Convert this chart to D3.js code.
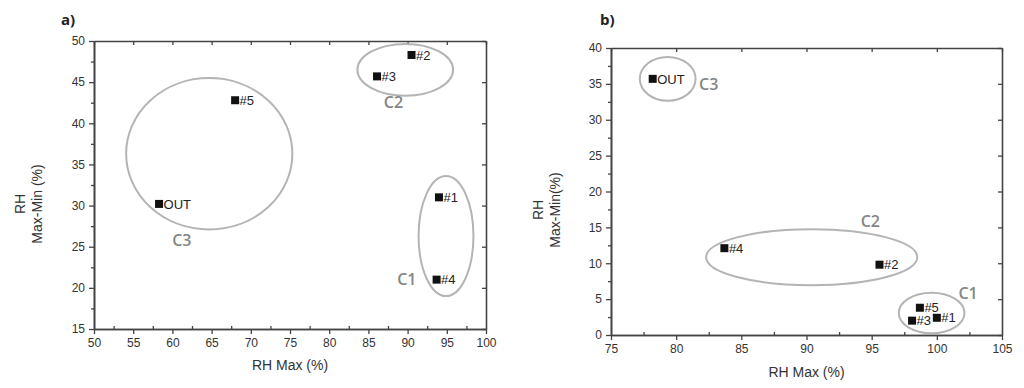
<!DOCTYPE html>
<html>
<head>
<meta charset="utf-8">
<script src="https://cdn.jsdelivr.net/npm/d3@7"></script>
<style>
body { margin: 0; background: #fff; }
svg text { font-family: "Liberation Sans", Arial, sans-serif; }
.tick text { font-size: 12px; fill: #333; }
.title { font-size: 14px; fill: #333; }
.clab { font-family: "Open Sans", sans-serif !important; font-size: 16px; font-weight: 600; fill: #858585; }
.plab { font-size: 13px; fill: #222; }
</style>
</head>
<body>
<script>
// panel a
var aNames = ["#1", "#2", "#3", "#4", "#5", "OUT"];
var aX = [94.0, 90.5, 86.1, 93.7, 68.0, 58.3];
var aY = [31.0, 48.3, 45.7, 21.0, 42.8, 30.2];
var aClusters = ["C1", "C2", "C3"];
var aCx = [94.9, 89.7, 64.7];
var aCy = [26.3, 46.5, 36.3];
var aRx = [3.5, 6.1, 10.6];
var aRy = [7.3, 3.15, 9.2];
var aLabX = [89.9, 88.2, 61.2];
var aLabY = [21.1, 42.5, 25.8];
var aXTicks = [50, 55, 60, 65, 70, 75, 80, 85, 90, 95, 100];
var aYTicks = [15, 20, 25, 30, 35, 40, 45, 50];

// panel b
var bNames = ["#1", "#2", "#3", "#4", "#5", "OUT"];
var bX = [100.0, 95.6, 98.1, 83.7, 98.7, 78.2];
var bY = [2.4, 9.8, 2.0, 12.1, 3.8, 35.7];
var bClusters = ["C1", "C2", "C3"];
var bCx = [99.6, 90.4, 79.35];
var bCy = [3.06, 10.85, 35.7];
var bRx = [2.52, 8.1, 2.14];
var bRy = [2.83, 3.9, 3.06];
var bLabX = [102.4, 94.9, 82.5];
var bLabY = [5.8, 15.9, 35.0];
var bXTicks = [75, 80, 85, 90, 95, 100, 105];
var bYTicks = [0, 5, 10, 15, 20, 25, 30, 35, 40];

var width = 1024, height = 388;
var svg = d3.select("body").append("svg")
    .attr("width", width)
    .attr("height", height);

function panel(p) {
    var x = d3.scaleLinear().domain(p.xDom).range([p.left, p.right]);
    var y = d3.scaleLinear().domain(p.yDom).range([p.bottom, p.top]);
    var g = svg.append("g");

    // minor ticks (halfway between majors)
    var xMinor = p.xTicks.slice(1).map(function(v, i){ return (v + p.xTicks[i]) / 2; });
    var yMinor = p.yTicks.slice(1).map(function(v, i){ return (v + p.yTicks[i]) / 2; });

    var ax = function(axis, tr, vals, size, labels) {
        var a = g.append("g").attr("transform", tr)
            .call(axis.tickValues(vals).tickSizeInner(size).tickSizeOuter(0).tickPadding(4)
                .tickFormat(labels ? d3.format("d") : ""));
        a.select(".domain").attr("stroke", "#444").attr("stroke-width", 1.6);
        a.selectAll(".tick line").attr("stroke", "#444").attr("stroke-width", 1.3);
        return a;
    };
    ax(d3.axisBottom(x), "translate(0," + p.bottom + ")", p.xTicks, 5, true);
    ax(d3.axisBottom(x), "translate(0," + p.bottom + ")", xMinor, -3, false);
    ax(d3.axisLeft(y), "translate(" + p.left + ",0)", p.yTicks, 5, true);
    ax(d3.axisLeft(y), "translate(" + p.left + ",0)", yMinor, 3, false);
    ax(d3.axisTop(x), "translate(0," + p.top + ")", p.xTicks, -4, false);
    ax(d3.axisRight(y), "translate(" + p.right + ",0)", p.yTicks, -4, false);

    // cluster ellipses
    g.selectAll(".cl").data(p.clusters).enter().append("ellipse")
        .attr("cx", function(d, i){ return x(p.cx[i]); })
        .attr("cy", function(d, i){ return y(p.cy[i]); })
        .attr("rx", function(d, i){ return x(p.cx[i] + p.rx[i]) - x(p.cx[i]); })
        .attr("ry", function(d, i){ return y(p.cy[i]) - y(p.cy[i] + p.ry[i]); })
        .attr("fill", "none").attr("stroke", "#b4b4b4").attr("stroke-width", 2);

    g.selectAll(".clab").data(p.clusters).enter().append("text")
        .attr("class", "clab")
        .attr("x", function(d, i){ return x(p.labX[i]); })
        .attr("y", function(d, i){ return y(p.labY[i]); })
        .attr("text-anchor", "middle").attr("dy", "0.36em")
        .text(function(d){ return d; });

    // points
    g.selectAll(".pt").data(p.names).enter().append("rect")
        .attr("x", function(d, i){ return x(p.xs[i]) - 4; })
        .attr("y", function(d, i){ return y(p.ys[i]) - 4; })
        .attr("width", 8).attr("height", 8).attr("fill", "#111");

    g.selectAll(".plab").data(p.names).enter().append("text")
        .attr("class", "plab")
        .attr("x", function(d, i){ return x(p.xs[i]) + 4.5; })
        .attr("y", function(d, i){ return y(p.ys[i]); })
        .attr("dy", "0.36em")
        .text(function(d){ return d; });

    // titles
    g.append("text").attr("class", "title")
        .attr("x", (p.left + p.right) / 2).attr("y", p.xTitleY)
        .attr("text-anchor", "middle").text("RH Max (%)");
    var yt = g.append("text").attr("class", "title")
        .attr("transform", "translate(" + p.yTitleX + "," + p.yTitleMid + ") rotate(-90)")
        .attr("text-anchor", "middle");
    yt.append("tspan").attr("x", 0).attr("dy", 0).text("RH");
    yt.append("tspan").attr("x", 0).attr("dy", 17).text(p.yTitle2);

    g.append("text")
        .attr("x", p.tagX).attr("y", 25)
        .style("font-family", "'Open Sans', sans-serif")
        .style("font-size", "15px").style("font-weight", "bold").attr("fill", "#222")
        .text(p.tag);
}

panel({
    xDom: [50, 100], yDom: [15, 50],
    left: 94, right: 486, top: 41, bottom: 329,
    xTicks: aXTicks, yTicks: aYTicks,
    names: aNames, xs: aX, ys: aY,
    clusters: aClusters, cx: aCx, cy: aCy, rx: aRx, ry: aRy, labX: aLabX, labY: aLabY,
    xTitleY: 370, yTitleX: 25, yTitleMid: 204, yTitle2: "Max-Min (%)",
    tag: "a)", tagX: 61
});

panel({
    xDom: [75, 105], yDom: [0, 40],
    left: 611, right: 1002, top: 48, bottom: 335,
    xTicks: bXTicks, yTicks: bYTicks,
    names: bNames, xs: bX, ys: bY,
    clusters: bClusters, cx: bCx, cy: bCy, rx: bRx, ry: bRy, labX: bLabX, labY: bLabY,
    xTitleY: 377, yTitleX: 543, yTitleMid: 210, yTitle2: "Max-Min(%)",
    tag: "b)", tagX: 600
});
</script>
</body>
</html>
